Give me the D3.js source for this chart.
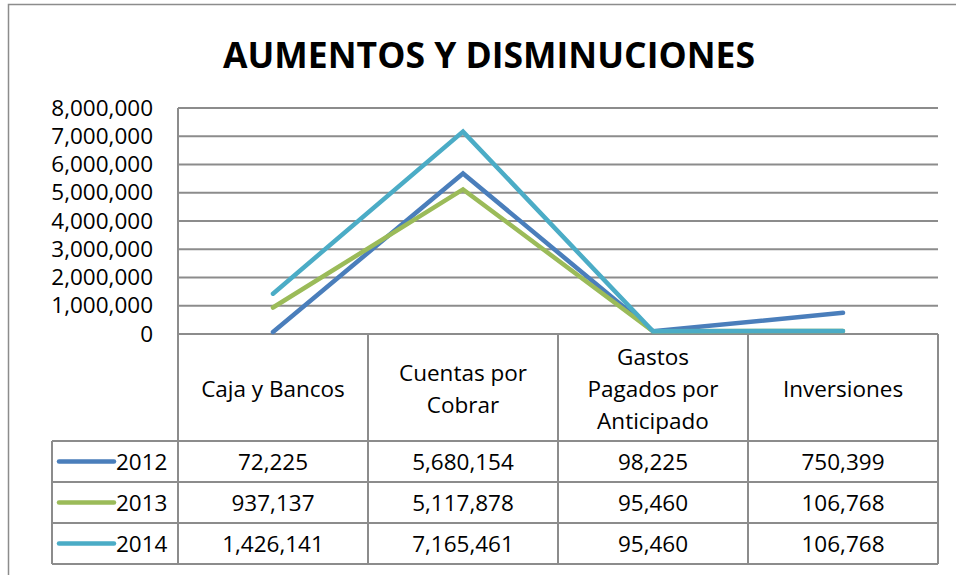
<!DOCTYPE html>
<html>
<head>
<meta charset="utf-8">
<script src="https://cdn.jsdelivr.net/npm/d3@7"></script>
<style>
  body { margin: 0; background: #fff; }
  svg { display: block; }
  text { font-family: "Open Sans", sans-serif; fill: #000; }
</style>
</head>
<body>
<div id="chart"></div>
<script>
// chart data
const categories = ["Caja y Bancos", "Cuentas por Cobrar", "Gastos Pagados por Anticipado", "Inversiones"];
const categoryLines = [["Caja y Bancos"], ["Cuentas por", "Cobrar"], ["Gastos", "Pagados por", "Anticipado"], ["Inversiones"]];
const years = ["2012", "2013", "2014"];
const values2012 = [72225, 5680154, 98225, 750399];
const values2013 = [937137, 5117878, 95460, 106768];
const values2014 = [1426141, 7165461, 95460, 106768];
const yTicks = [0, 1000000, 2000000, 3000000, 4000000, 5000000, 6000000, 7000000, 8000000];
const colors = ["#4a7ebb", "#9bbb59", "#4bacc6"];

const series = [values2012, values2013, values2014];

const width = 956, height = 575;
const plot = { left: 178, right: 938, top: 108, bottom: 334 };
const tableBottom = 564, headerBottom = 441, legendLeft = 52;
const gridColor = "#8c8c8c";
const fontSize = 22.5;

const svg = d3.select("#chart").append("svg")
    .attr("width", width)
    .attr("height", height);

// outer chart frame
svg.append("rect")
    .attr("x", 8.5).attr("y", 4.5)
    .attr("width", 1000).attr("height", 1000)
    .attr("fill", "none")
    .attr("stroke", gridColor)
    .attr("stroke-width", 1.5);

svg.append("text")
    .attr("x", 489).attr("y", 68)
    .attr("text-anchor", "middle")
    .style("font-size", "35.5px")
    .style("font-weight", "bold")
    .text("AUMENTOS Y DISMINUCIONES");

const x = d3.scaleBand()
    .domain(categories)
    .range([plot.left, plot.right]);

const y = d3.scaleLinear()
    .domain([0, 8000000])
    .range([plot.bottom, plot.top]);

// gridlines
svg.append("g")
    .selectAll("line")
    .data(yTicks)
    .join("line")
    .attr("x1", plot.left).attr("x2", plot.right)
    .attr("y1", d => y(d)).attr("y2", d => y(d))
    .attr("stroke", gridColor)
    .attr("stroke-width", 2);

// y axis
const yAxis = d3.axisLeft(y)
    .tickValues(yTicks)
    .tickFormat(d3.format(","))
    .tickSize(0)
    .tickPadding(25);

const yg = svg.append("g")
    .attr("transform", `translate(${plot.left},0)`)
    .call(yAxis);
yg.select(".domain")
    .attr("stroke", gridColor)
    .attr("stroke-width", 2)
    .attr("d", `M0,${plot.top}V${tableBottom}`);
yg.selectAll(".tick text")
    .style("font-family", "'Open Sans', sans-serif")
    .style("font-size", fontSize + "px")
    .attr("fill", "#000");

// lines
const line = d3.line()
    .x((d, i) => x(categories[i]) + x.bandwidth() / 2)
    .y(d => y(d));

svg.append("g")
    .selectAll("path")
    .data(series)
    .join("path")
    .attr("d", line)
    .attr("fill", "none")
    .attr("stroke", (d, i) => colors[i])
    .attr("stroke-width", 4.5)
    .attr("stroke-linecap", "round")
    .attr("stroke-linejoin", "miter");

// data table
const rowScale = d3.scaleBand()
    .domain(years)
    .range([headerBottom, tableBottom]);

const table = svg.append("g")
    .attr("stroke", gridColor)
    .attr("stroke-width", 2);

table.selectAll("line.col")
    .data(categories)
    .join("line")
    .attr("class", "col")
    .attr("x1", d => x(d) + x.bandwidth()).attr("x2", d => x(d) + x.bandwidth())
    .attr("y1", plot.bottom).attr("y2", tableBottom);

table.selectAll("line.row")
    .data(years)
    .join("line")
    .attr("class", "row")
    .attr("x1", legendLeft).attr("x2", plot.right)
    .attr("y1", d => rowScale(d) + rowScale.bandwidth()).attr("y2", d => rowScale(d) + rowScale.bandwidth());

table.append("line")
    .attr("x1", legendLeft).attr("x2", plot.right)
    .attr("y1", headerBottom).attr("y2", headerBottom);

table.append("line")
    .attr("x1", legendLeft).attr("x2", legendLeft)
    .attr("y1", headerBottom).attr("y2", tableBottom);

// category headers
const headerMid = (plot.bottom + headerBottom) / 2;
const lh = 32;
svg.append("g")
    .selectAll("text")
    .data(categoryLines)
    .join("text")
    .attr("x", (d, i) => x(categories[i]) + x.bandwidth() / 2)
    .attr("y", d => headerMid - (d.length - 1) * lh / 2)
    .attr("text-anchor", "middle")
    .attr("dominant-baseline", "central")
    .style("font-size", fontSize + "px")
    .selectAll("tspan")
    .data(d => d)
    .join("tspan")
    .attr("x", function () { return this.parentNode.getAttribute("x"); })
    .attr("dy", (d, i) => i === 0 ? 0 : lh)
    .text(d => d);

// value cells
const fmt = d3.format(",");
series.forEach((vals, s) => {
    const yr = years[s];
    const cy = rowScale(yr) + rowScale.bandwidth() / 2;
    svg.append("g")
        .selectAll("text")
        .data(vals)
        .join("text")
        .attr("x", (d, i) => x(categories[i]) + x.bandwidth() / 2)
        .attr("y", cy)
        .attr("text-anchor", "middle")
        .attr("dominant-baseline", "central")
        .style("font-size", fontSize + "px")
        .text(d => fmt(d));

    // legend key
    svg.append("line")
        .attr("x1", 59).attr("x2", 114)
        .attr("y1", cy).attr("y2", cy)
        .attr("stroke", colors[s])
        .attr("stroke-width", 4.5)
        .attr("stroke-linecap", "round");

    svg.append("text")
        .attr("x", 116).attr("y", cy)
        .attr("dominant-baseline", "central")
        .style("font-size", fontSize + "px")
        .text(yr);
});
</script>
</body>
</html>
